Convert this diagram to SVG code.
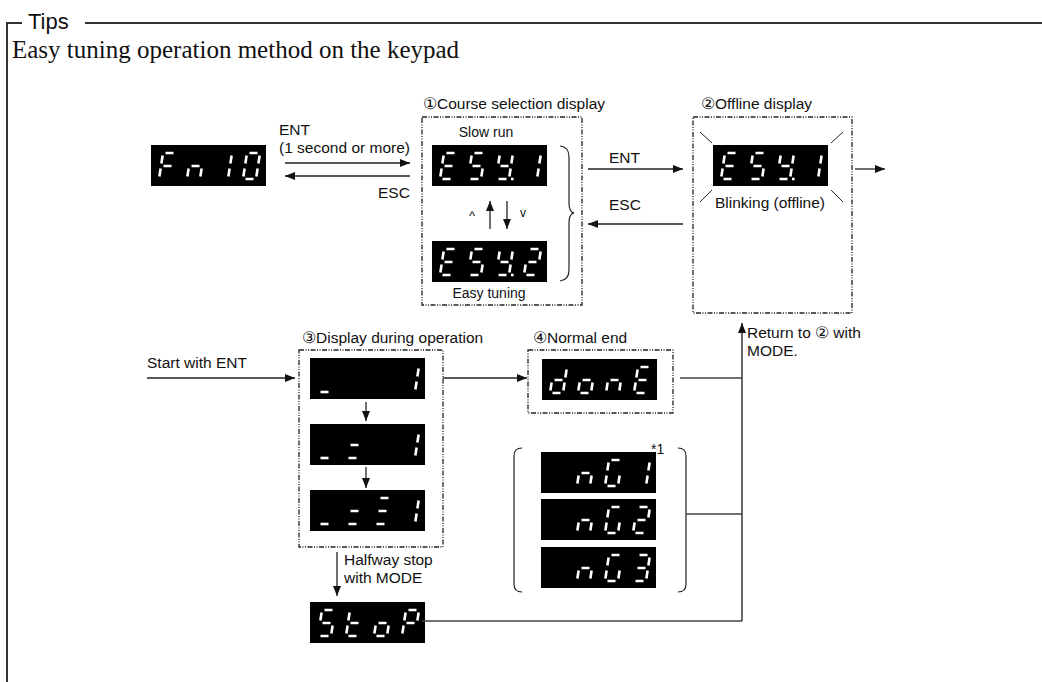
<svg xmlns="http://www.w3.org/2000/svg" xmlns:xlink="http://www.w3.org/1999/xlink" width="1042" height="682" viewBox="0 0 1042 682">
<style>
.t{font-family:"Liberation Sans",Arial,sans-serif;fill:#111;}
.s{stroke:#fff;stroke-width:2.6;fill:none;stroke-linecap:butt;}
.box{fill:none;stroke:#222;stroke-width:1.3;stroke-dasharray:5 1.5 1 1.5 1 1.5;}
.rl{fill:none;stroke:#444;stroke-width:1.6;}
.ar{fill:none;stroke:#222;stroke-width:1.3;marker-end:url(#ah);}
</style>
<defs>
<marker id="ah" viewBox="0 0 10 8" refX="10" refY="4" markerWidth="10" markerHeight="8" markerUnits="userSpaceOnUse" orient="auto"><path d="M0 0L10 4L0 8z" fill="#111"/></marker>
<path id="gF" class="s" d="M6.5 0L14.5 0M3.62 2.47L2.38 10.53M4.5 13L12.5 13M1.62 15.47L0.38 23.53"/>
<path id="gn" class="s" d="M4.5 13L12.5 13M1.62 15.47L0.38 23.53M14.62 15.47L13.38 23.53"/>
<path id="g1" class="s" d="M16.62 2.47L15.38 10.53M14.62 15.47L13.38 23.53"/>
<path id="g0" class="s" d="M6.5 0L14.5 0M16.62 2.47L15.38 10.53M14.62 15.47L13.38 23.53M2.5 26L10.5 26M1.62 15.47L0.38 23.53M3.62 2.47L2.38 10.53"/>
<path id="gE" class="s" d="M6.5 0L14.5 0M3.62 2.47L2.38 10.53M4.5 13L12.5 13M1.62 15.47L0.38 23.53M2.5 26L10.5 26"/>
<path id="gS" class="s" d="M6.5 0L14.5 0M3.62 2.47L2.38 10.53M4.5 13L12.5 13M14.62 15.47L13.38 23.53M2.5 26L10.5 26"/>
<path id="gY" class="s" d="M3.62 2.47L2.38 10.53M16.62 2.47L15.38 10.53M4.5 13L12.5 13M14.62 15.47L13.38 23.53M2.5 26L10.5 26"/>
<path id="g2" class="s" d="M6.5 0L14.5 0M16.62 2.47L15.38 10.53M4.5 13L12.5 13M1.62 15.47L0.38 23.53M2.5 26L10.5 26"/>
<path id="g3" class="s" d="M6.5 0L14.5 0M16.62 2.47L15.38 10.53M4.5 13L12.5 13M14.62 15.47L13.38 23.53M2.5 26L10.5 26"/>
<path id="gd" class="s" d="M16.62 2.47L15.38 10.53M14.62 15.47L13.38 23.53M2.5 26L10.5 26M1.62 15.47L0.38 23.53M4.5 13L12.5 13"/>
<path id="go" class="s" d="M4.5 13L12.5 13M14.62 15.47L13.38 23.53M2.5 26L10.5 26M1.62 15.47L0.38 23.53"/>
<path id="gt" class="s" d="M3.62 2.47L2.38 10.53M1.62 15.47L0.38 23.53M4.5 13L12.5 13M2.5 26L10.5 26"/>
<path id="gP" class="s" d="M6.5 0L14.5 0M16.62 2.47L15.38 10.53M3.62 2.47L2.38 10.53M4.5 13L12.5 13M1.62 15.47L0.38 23.53"/>
<path id="gG" class="s" d="M6.5 0L14.5 0M3.62 2.47L2.38 10.53M1.62 15.47L0.38 23.53M2.5 26L10.5 26M14.62 15.47L13.38 23.53"/>
<path id="gu" class="s" d="M2.5 26L10.5 26"/>
<path id="ge" class="s" d="M4.5 13L12.5 13M2.5 26L10.5 26"/>
<path id="gq" class="s" d="M6.5 0L14.5 0M4.5 13L12.5 13M2.5 26L10.5 26"/>
<rect id="gdp" x="15" y="24.7" width="2.6" height="2.6" fill="#fff"/>
<rect id="disp" width="115" height="41" fill="#000"/>
</defs>

<g id="frame">
<path d="M7 682V23H22M85 23H1042" fill="none" stroke="#333" stroke-width="2"/>
<text class="t" x="28" y="29" font-size="22">Tips</text>
<text x="12" y="58" font-family="'Liberation Serif','Times New Roman',serif" font-size="25" fill="#111">Easy tuning operation method on the keypad</text>
</g>

<g id="fn10">
<use href="#disp" x="151" y="145"/>
<use href="#gF" x="159" y="153"/><use href="#gn" x="187" y="153"/><use href="#g1" x="215" y="153"/><use href="#g0" x="243" y="153"/>
</g>

<g id="course">
<text class="t" x="423" y="109" font-size="15.5">①Course selection display</text>
<rect class="box" x="422" y="117" width="160" height="188"/>
<text class="t" x="486" y="137" font-size="14" text-anchor="middle">Slow run</text>
<use href="#disp" x="432" y="145"/>
<use href="#gE" x="440" y="153"/><use href="#gS" x="468" y="153"/><use href="#gY" x="496" y="153"/><use href="#gdp" x="496" y="153"/><use href="#g1" x="524" y="153"/>
<use href="#disp" x="432" y="241"/>
<use href="#gE" x="440" y="249"/><use href="#gS" x="468" y="249"/><use href="#gY" x="496" y="249"/><use href="#gdp" x="496" y="249"/><use href="#g2" x="524" y="249"/>
<text class="t" x="489" y="298" font-size="14" text-anchor="middle">Easy tuning</text>
<text class="t" x="472" y="220" font-size="13" text-anchor="middle">^</text>
<text class="t" x="523" y="217" font-size="12" text-anchor="middle">v</text>
<path d="M560 146Q569 147 569 157V203Q569 212 574 213Q569 214 569 223V270Q569 280 560 281" fill="none" stroke="#222" stroke-width="1.2"/>
</g>

<g id="offline">
<text class="t" x="701" y="109" font-size="15.5">②Offline display</text>
<rect class="box" x="693" y="117" width="159" height="196"/>
<use href="#disp" x="713" y="145"/>
<use href="#gE" x="721" y="153"/><use href="#gS" x="749" y="153"/><use href="#gY" x="777" y="153"/><use href="#gdp" x="777" y="153"/><use href="#g1" x="805" y="153"/>
<path d="M700 132L712 143M843 132L831 143M700 202L712 190M843 202L831 190" stroke="#222" stroke-width="1" fill="none"/>
<text class="t" x="770" y="208" font-size="15.5" text-anchor="middle">Blinking (offline)</text>
</g>

<g id="operation">
<text class="t" x="302" y="343" font-size="15.5">③Display during operation</text>
<rect class="box" x="299" y="350" width="144" height="197"/>
<use href="#disp" x="310" y="358"/>
<use href="#gu" x="318" y="366"/><use href="#g1" x="402" y="366"/>
<use href="#disp" x="310" y="424"/>
<use href="#gu" x="318" y="432"/><use href="#ge" x="346" y="432"/><use href="#g1" x="402" y="432"/>
<use href="#disp" x="310" y="490"/>
<use href="#gu" x="318" y="498"/><use href="#ge" x="346" y="498"/><use href="#gq" x="374" y="498"/><use href="#g1" x="402" y="498"/>
</g>

<g id="normalend">
<text class="t" x="533" y="343" font-size="15.5">④Normal end</text>
<rect class="box" x="528" y="350" width="145" height="63"/>
<use href="#disp" x="542" y="359"/>
<use href="#gd" x="550" y="367"/><use href="#go" x="578" y="367"/><use href="#gn" x="606" y="367"/><use href="#gE" x="634" y="367"/>
</g>

<g id="errors">
<text class="t" x="651" y="454" font-size="14">*1</text>
<path d="M522 448Q514 448 514 456V584Q514 592 522 592M678 448Q686 448 686 456V584Q686 592 678 592" fill="none" stroke="#222" stroke-width="1.2"/>
<use href="#disp" x="541" y="452"/>
<use href="#gn" x="577" y="460"/><use href="#gG" x="605" y="460"/><use href="#g1" x="633" y="460"/>
<use href="#disp" x="541" y="499"/>
<use href="#gn" x="577" y="507"/><use href="#gG" x="605" y="507"/><use href="#g2" x="633" y="507"/>
<use href="#disp" x="541" y="547"/>
<use href="#gn" x="577" y="555"/><use href="#gG" x="605" y="555"/><use href="#g3" x="633" y="555"/>
</g>

<g id="stop">
<use href="#disp" x="310" y="602"/>
<use href="#gS" x="318" y="610"/><use href="#gt" x="346" y="610"/><use href="#go" x="374" y="610"/><use href="#gP" x="402" y="610"/>
</g>

<g id="connectors">
<text class="t" x="279" y="135" font-size="15.5">ENT</text>
<text class="t" x="279" y="153" font-size="15.5">(1 second or more)</text>
<path class="ar" d="M285 163H410"/>
<path class="ar" d="M410 176H285"/>
<text class="t" x="378" y="198" font-size="15.5">ESC</text>
<path class="ar" d="M490 229V201"/>
<path class="ar" d="M507 201V229"/>
<text class="t" x="609" y="163" font-size="15.5">ENT</text>
<path class="ar" d="M588 169H683"/>
<text class="t" x="609" y="210" font-size="15.5">ESC</text>
<path class="ar" d="M683 224H588"/>
<path class="ar" d="M855 169H885"/>
<text class="t" x="147" y="368" font-size="15.5">Start with ENT</text>
<path class="ar" d="M147 378H295"/>
<path class="ar" d="M443 378H527"/>
<path class="ar" d="M366 402V421"/>
<path class="ar" d="M366 467V488"/>
<path class="ar" d="M337 552V596"/>
<text class="t" x="344" y="565" font-size="15.5">Halfway stop</text>
<text class="t" x="344" y="583" font-size="15.5">with MODE</text>
<path class="rl" d="M680 378H742M686 514H742M422 621H742"/>
<path class="ar" d="M742 621V323" style="stroke:#444;stroke-width:1.6"/>
<text class="t" x="747" y="338" font-size="15.5">Return to ② with</text>
<text class="t" x="747" y="356" font-size="15.5">MODE.</text>
</g>
</svg>
